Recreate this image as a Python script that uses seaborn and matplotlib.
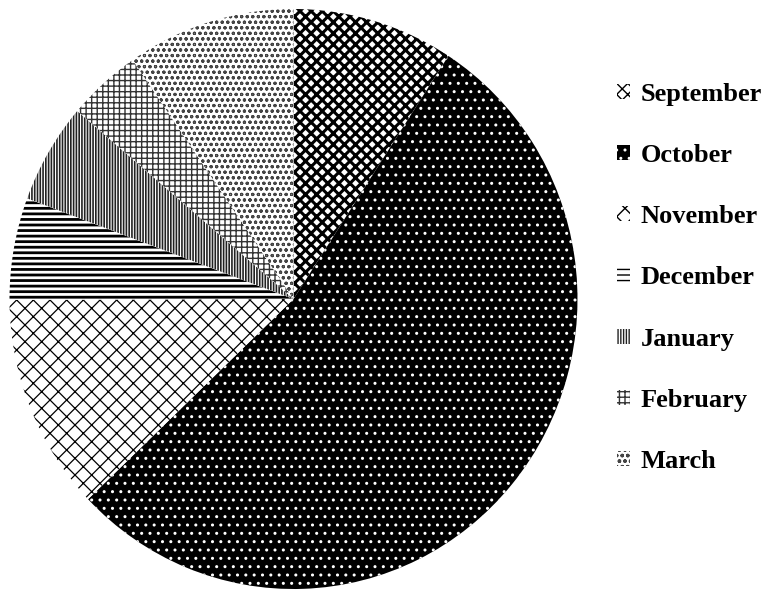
import matplotlib
matplotlib.use("Agg")
import matplotlib.pyplot as plt
import seaborn as sns
from matplotlib.patches import Patch

# Monthly shares (percent of the season total)
months = ["September", "October", "November", "December",
          "January", "February", "March"]
shares = [9.2, 53.8, 12.1, 5.7, 5.6, 4.2, 9.6]

# Fill style for each month: face colour, pattern colour, hatch
face_colors = ["white", "black", "white", "white", "white", "white", "white"]
hatch_colors = ["black", "white", "black", "black", "#222222", "#333333", "#444444"]
hatches = ["xxx", "..", "xx", "---", "||||||", "+++", "ooo"]
hatch_widths = [2.2, 1.0, 0.9, 2.0, 1.2, 1.0, 0.8]

sns.set_theme(style="white")
plt.rcParams["font.family"] = ["Liberation Serif", "DejaVu Serif"]

W, H = 780, 591
fig = plt.figure(figsize=(W / 100, H / 100), dpi=100)
fig.patch.set_facecolor("white")

# pie: centre (293, 299) px, radii 284 x 290 px
cx, cy, rx, ry = 293.5, 299, 284, 290
ax = fig.add_axes([(cx - rx) / W, (H - cy - ry) / H, 2 * rx / W, 2 * ry / H])

wedges, _ = ax.pie(shares, startangle=90, counterclock=False,
                   colors=face_colors, radius=1.0,
                   wedgeprops=dict(linewidth=0))
for w, hc, hp, hw in zip(wedges, hatch_colors, hatches, hatch_widths):
    w.set_edgecolor(hc)
    w.set_linewidth(0)
    w.set_hatch(hp)
    if hasattr(w, "set_hatch_linewidth"):
        w.set_hatch_linewidth(hw)
ax.set_xlim(-1, 1)
ax.set_ylim(-1, 1)
ax.set_aspect("auto")
ax.axis("off")

handles = []
for fc, hc, hp, hw in zip(face_colors, hatch_colors, hatches, hatch_widths):
    p = Patch(facecolor=fc, edgecolor=hc, hatch=hp, linewidth=0)
    if hasattr(p, "set_hatch_linewidth"):
        p.set_hatch_linewidth(hw)
    handles.append(p)

fig.legend(handles, months, loc="center left",
           bbox_to_anchor=(617 / W, 1 - 278 / H),
           frameon=False, labelcolor="black",
           prop=dict(family=["Liberation Serif"], weight="bold", size=19),
           handlelength=0.5, handleheight=0.5, handletextpad=0.4,
           labelspacing=1.45, borderpad=0, borderaxespad=0)

fig.savefig("out.png", dpi=100, facecolor="white")
